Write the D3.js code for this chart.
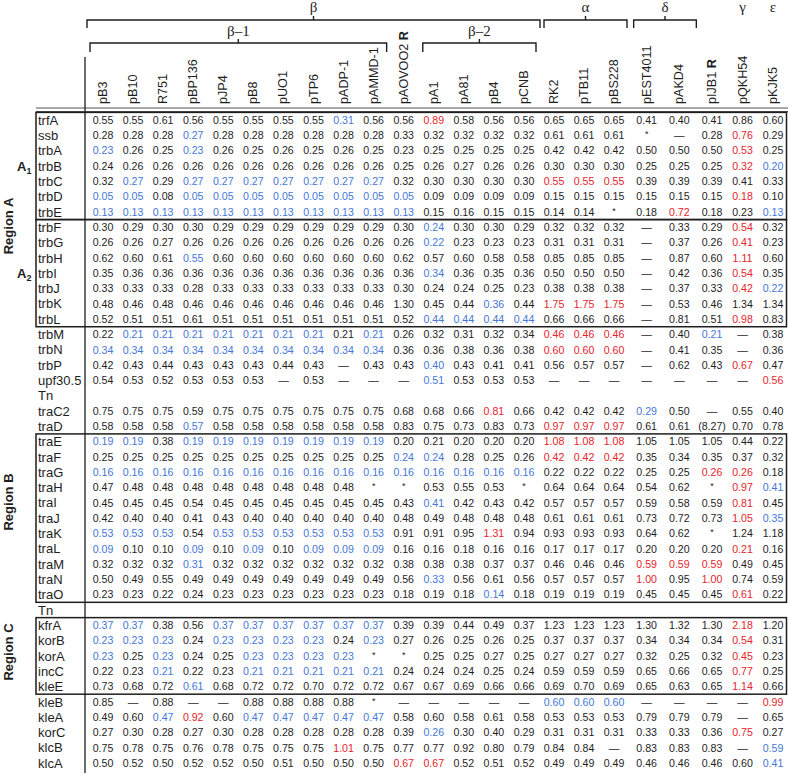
<!DOCTYPE html>
<html><head><meta charset="utf-8">
<script src="https://cdn.jsdelivr.net/npm/d3@7"></script>
<style>
html,body{margin:0;padding:0;background:#fff;}
svg{display:block;font-family:"Liberation Sans",Arial,Helvetica,sans-serif;}
</style></head>
<body><svg id="chart" width="788" height="775"></svg>
<script>
// ---- column (plasmid) labels ----
const columns = ["pB3","pB10","R751","pBP136","pJP4","pB8","pUO1","pTP6","pADP-1","pAMMD-1","pAOVOO2","pA1","pA81","pB4","pCNB","RK2","pTB11","pBS228","pEST4011","pAKD4","pIJB1","pQKH54","pKJK5"];
const rMarked = ["pAOVOO2","pIJB1"];

// ---- header groups: [label, first column, last column, level] ----
const groupsTop = [["β",0,14,0],["β–1",0,9,1],["β–2",11,14,1],["α",15,17,0],["δ",18,19,0]];
const singleGroups = [["γ",21],["ε",22]];

// ---- values; suffix b = blue (low), r = red (high) ----
const regionA1 = [
 ["trfA",["0.55","0.55","0.61","0.56","0.55","0.55","0.55","0.55","0.31b","0.56","0.56","0.89r","0.58","0.56","0.56","0.65","0.65","0.65","0.41","0.40","0.41","0.86","0.60"]],
 ["ssb",["0.28","0.28","0.28","0.27b","0.28","0.28","0.28","0.28","0.28","0.28","0.33","0.32","0.32","0.32","0.32","0.61","0.61","0.61","*","—","0.28","0.76r","0.29"]],
 ["trbA",["0.23b","0.26","0.25","0.23b","0.26","0.25","0.26","0.25","0.26","0.25","0.23","0.25","0.25","0.25","0.25","0.42","0.42","0.42","0.50","0.50","0.50","0.53r","0.25"]],
 ["trbB",["0.24","0.26","0.26","0.26","0.26","0.26","0.26","0.26","0.26","0.26","0.25","0.26","0.27","0.26","0.26","0.30","0.30","0.30","0.25","0.25","0.25","0.32r","0.20b"]],
 ["trbC",["0.32","0.27b","0.29","0.27b","0.27b","0.27b","0.27b","0.27b","0.27b","0.27b","0.32","0.30","0.30","0.30","0.30","0.55r","0.55r","0.55r","0.39","0.39","0.39","0.41","0.33"]],
 ["trbD",["0.05b","0.05b","0.08","0.05b","0.05b","0.05b","0.05b","0.05b","0.05b","0.05b","0.05b","0.09","0.09","0.09","0.09","0.15","0.15","0.15","0.15","0.15","0.15","0.18r","0.10"]],
 ["trbE",["0.13b","0.13b","0.13b","0.13b","0.13b","0.13b","0.13b","0.13b","0.13b","0.13b","0.13b","0.15","0.16","0.15","0.15","0.14","0.14","*","0.18","0.72r","0.18","0.23","0.13b"]]
];
const regionA2 = [
 ["trbF",["0.30","0.29","0.30","0.30","0.29","0.29","0.29","0.29","0.29","0.29","0.30","0.24b","0.30","0.30","0.29","0.32","0.32","0.32","—","0.33","0.29","0.54r","0.32"]],
 ["trbG",["0.26","0.26","0.27","0.26","0.26","0.26","0.26","0.26","0.26","0.26","0.26","0.22b","0.23","0.23","0.23","0.31","0.31","0.31","—","0.37","0.26","0.41r","0.23"]],
 ["trbH",["0.62","0.60","0.61","0.55b","0.60","0.60","0.60","0.60","0.60","0.60","0.62","0.57","0.60","0.58","0.58","0.85","0.85","0.85","—","0.87","0.60","1.11r","0.60"]],
 ["trbI",["0.35","0.36","0.36","0.36","0.36","0.36","0.36","0.36","0.36","0.36","0.36","0.34b","0.36","0.35","0.36","0.50","0.50","0.50","—","0.42","0.36","0.54r","0.35"]],
 ["trbJ",["0.33","0.33","0.33","0.28","0.33","0.33","0.33","0.33","0.33","0.33","0.30","0.24","0.24","0.25","0.23","0.38","0.38","0.38","—","0.37","0.33","0.42r","0.22b"]],
 ["trbK",["0.48","0.46","0.48","0.46","0.46","0.46","0.46","0.46","0.46","0.46","1.30","0.45","0.44","0.36b","0.44","1.75r","1.75r","1.75r","—","0.53","0.46","1.34","1.34"]],
 ["trbL",["0.52","0.51","0.51","0.61","0.51","0.51","0.51","0.51","0.51","0.51","0.52","0.44b","0.44b","0.44b","0.44b","0.66","0.66","0.66","—","0.81","0.51","0.98r","0.83"]]
];
const middleRows = [
 ["trbM",["0.22","0.21b","0.21b","0.21b","0.21b","0.21b","0.21b","0.21b","0.21","0.21b","0.26","0.32","0.31","0.32","0.34","0.46r","0.46r","0.46r","—","0.40","0.21b","—","0.38"]],
 ["trbN",["0.34b","0.34b","0.34b","0.34b","0.34b","0.34b","0.34b","0.34b","0.34b","0.34b","0.36","0.36","0.38","0.36","0.38","0.60r","0.60r","0.60r","—","0.41","0.35","—","0.36"]],
 ["trbP",["0.42","0.43","0.44","0.43","0.43","0.43","0.44","0.43","—","0.43","0.43","0.40b","0.43","0.41","0.41","0.56","0.57","0.57","—","0.62","0.43","0.67r","0.47"]],
 ["upf30.5",["0.54","0.53","0.52","0.53","0.53","0.53","—","0.53","—","—","—","0.51b","0.53","0.53","0.53","—","—","—","—","—","—","—","0.56r"]],
 ["Tn",[]],
 ["traC2",["0.75","0.75","0.75","0.59","0.75","0.75","0.75","0.75","0.75","0.75","0.68","0.68","0.66","0.81r","0.66","0.42","0.42","0.42","0.29b","0.50","—","0.55","0.40"]],
 ["traD",["0.58","0.58","0.58","0.57b","0.58","0.58","0.58","0.58","0.58","0.58","0.83","0.75","0.73","0.83","0.73","0.97r","0.97r","0.97r","0.61","0.61","(8.27)","0.70","0.78"]]
];
const regionB = [
 ["traE",["0.19b","0.19b","0.38","0.19b","0.19b","0.19b","0.19b","0.19b","0.19b","0.19b","0.20","0.21","0.20","0.20","0.20","1.08r","1.08r","1.08r","1.05","1.05","1.05","0.44","0.22"]],
 ["traF",["0.25","0.25","0.25","0.25","0.25","0.25","0.25","0.25","0.25","0.25","0.24b","0.24b","0.28","0.25","0.26","0.42r","0.42r","0.42r","0.35","0.34","0.35","0.37","0.32"]],
 ["traG",["0.16b","0.16b","0.16b","0.16b","0.16b","0.16b","0.16b","0.16b","0.16b","0.16b","0.16b","0.16b","0.16b","0.16b","0.16b","0.22","0.22","0.22","0.25","0.25","0.26r","0.26r","0.18"]],
 ["traH",["0.47","0.48","0.48","0.48","0.48","0.48","0.48","0.48","0.48","*","*","0.53","0.55","0.53","*","0.64","0.64","0.64","0.54","0.62","*","0.97r","0.41b"]],
 ["traI",["0.45","0.45","0.45","0.54","0.45","0.45","0.45","0.45","0.45","0.45","0.43","0.41b","0.42","0.43","0.42","0.57","0.57","0.57","0.59","0.58","0.59","0.81r","0.45"]],
 ["traJ",["0.42","0.40","0.40","0.41","0.43","0.40","0.40","0.40","0.40","0.40","0.48","0.49","0.48","0.48","0.48","0.61","0.61","0.61","0.73","0.72","0.73","1.05r","0.35b"]],
 ["traK",["0.53b","0.53b","0.53b","0.54","0.53b","0.53b","0.53b","0.53b","0.53b","0.53b","0.91","0.91","0.95","1.31r","0.94","0.93","0.93","0.93","0.64","0.62","*","1.24","1.18"]],
 ["traL",["0.09b","0.10","0.10","0.09b","0.10","0.09b","0.10","0.09b","0.09b","0.09b","0.16","0.16","0.18","0.16","0.16","0.17","0.17","0.17","0.20","0.20","0.20","0.21r","0.16"]],
 ["traM",["0.32","0.32","0.32","0.31b","0.32","0.32","0.32","0.32","0.32","0.32","0.38","0.38","0.38","0.37","0.37","0.46","0.46","0.46","0.59r","0.59r","0.59r","0.49","0.45"]],
 ["traN",["0.50","0.49","0.55","0.49","0.49","0.49","0.49","0.49","0.49","0.49","0.56","0.33b","0.56","0.61","0.56","0.57","0.57","0.57","1.00r","0.95","1.00r","0.74","0.59"]],
 ["traO",["0.23","0.23","0.22","0.24","0.23","0.23","0.23","0.23","0.23","0.23","0.18","0.19","0.18","0.14b","0.18","0.19","0.19","0.19","0.45","0.45","0.45","0.61r","0.22"]]
];
const tnRow = [["Tn",[]]];
const regionC = [
 ["kfrA",["0.37b","0.37b","0.38","0.56","0.37b","0.37b","0.37b","0.37b","0.37b","0.37b","0.39","0.39","0.44","0.49","0.37","1.23","1.23","1.23","1.30","1.32","1.30","2.18r","1.20"]],
 ["korB",["0.23b","0.23b","0.23b","0.24","0.23b","0.23b","0.23b","0.23b","0.24","0.23b","0.27","0.26","0.25","0.26","0.25","0.37","0.37","0.37","0.34","0.34","0.34","0.54r","0.31"]],
 ["korA",["0.23b","0.25","0.23b","0.24","0.25","0.23b","0.23b","0.23b","0.23b","*","*","0.25","0.25","0.27","0.25","0.27","0.27","0.27","0.32","0.25","0.32","0.45r","0.23"]],
 ["incC",["0.22","0.23","0.21b","0.22","0.23","0.21b","0.21b","0.21b","0.21b","0.21b","0.24","0.24","0.24","0.25","0.24","0.59","0.59","0.59","0.65","0.66","0.65","0.77r","0.25"]],
 ["kleE",["0.73","0.68","0.72","0.61b","0.68","0.72","0.72","0.70","0.72","0.72","0.67","0.67","0.69","0.66","0.66","0.69","0.70","0.69","0.65","0.63","0.65","1.14r","0.66"]]
];
const tailRows = [
 ["kleB",["0.85","—","0.88","—","—","0.88","0.88","0.88","0.88","*","—","—","—","—","—","0.60b","0.60b","0.60b","—","—","—","—","0.99r"]],
 ["kleA",["0.49","0.60","0.47b","0.92r","0.60","0.47b","0.47b","0.47b","0.47b","0.47b","0.58","0.60","0.58","0.61","0.58","0.53","0.53","0.53","0.79","0.79","0.79","—","0.65"]],
 ["korC",["0.27","0.30","0.28","0.27","0.30","0.28","0.28","0.28","0.28","0.28","0.39","0.26b","0.30","0.40","0.29","0.31","0.31","0.31","0.33","0.33","0.36","0.75r","0.27"]],
 ["klcB",["0.75","0.78","0.75","0.76","0.78","0.75","0.75","0.75","1.01r","0.75","0.77","0.77","0.92","0.80","0.79","0.84","0.84","—","0.83","0.83","0.83","—","0.59b"]],
 ["klcA",["0.50","0.52","0.50","0.52","0.52","0.50","0.51","0.50","0.50","0.50","0.67r","0.67r","0.52","0.51","0.52","0.49","0.49","0.49","0.46","0.46","0.46","0.60","0.41b"]]
];

// ---- drawing ----
const rows = [...regionA1, ...regionA2, ...middleRows, ...regionB, ...tnRow, ...regionC, ...tailRows];
const svg = d3.select("#chart");
const ink = "#1e1e1e", blue = "#4677d8", red = "#e5242c";

const x = d3.scaleLinear().domain([0, 14, 17, 20, 22]).range([103, 524, 614, 712, 773]);
const y = d3.scaleBand().domain(d3.range(rows.length)).range([112.4, 112.4 + rows.length * 15.31]);
const yc = i => y(i) + y.bandwidth() / 2;

const leftX = 36, rightX = 786.5, sepX = 85;

// header double line
[108, 111.6].forEach(v => svg.append("line").attr("x1", leftX).attr("x2", 788).attr("y1", v).attr("y2", v)
  .attr("stroke", "#555").attr("stroke-width", 1.1));

// vertical separator between labels and data
svg.append("line").attr("x1", sepX).attr("x2", sepX).attr("y1", 57).attr("y2", 773)
  .attr("stroke", ink).attr("stroke-width", 1.3);

// boxes
const idx = {};
let k = 0;
[["A1", regionA1], ["A2", regionA2], ["M", middleRows], ["B", regionB], ["T", tnRow], ["C", regionC], ["E", tailRows]].forEach(([n, g]) => { idx[n] = [k, k + g.length - 1]; k += g.length; });
const boxes = [idx.A1, idx.A2, idx.B, idx.C];
boxes.forEach(([a, b]) => {
  svg.append("rect").attr("x", leftX).attr("y", y(a)).attr("width", rightX - leftX)
    .attr("height", y(b) + y.bandwidth() - y(a))
    .attr("fill", "none").attr("stroke", ink).attr("stroke-width", 1.5);
});

// column headers
const hdr = svg.append("g");
columns.forEach((c, i) => {
  const t = hdr.append("text").attr("transform", `translate(${x(i) + 4},104) rotate(-90)`)
    .attr("font-size", 12.6).attr("fill", ink);
  t.append("tspan").text(c);
  if (rMarked.includes(c)) t.append("tspan").attr("font-weight", "bold").text(" R");
});

// brackets
const pad = {"β": [16, 16], "β–1": [13, 13], "β–2": [11, 12], "α": [10, 13], "δ": [13, 17]};
groupsTop.forEach(([lab, a, b, lvl]) => {
  const x1 = x(a) - pad[lab][0], x2 = x(b) + pad[lab][1];
  const yl = lvl === 0 ? 20 : 43, ye = lvl === 0 ? 28 : 52;
  const cx = (x1 + x2) / 2;
  svg.append("path").attr("d", `M${x1},${ye}V${yl}H${x2}V${ye}M${cx},${yl}V${yl - 4}`)
    .attr("fill", "none").attr("stroke", ink).attr("stroke-width", 1.4);
  svg.append("text").attr("x", cx).attr("y", lvl === 0 ? 12 : 36).attr("text-anchor", "middle")
    .attr("font-family", "'Liberation Serif','Times New Roman',serif").attr("font-size", 15).attr("fill", ink).text(lab);
});
singleGroups.forEach(([lab, i]) => {
  svg.append("text").attr("x", x(i)).attr("y", 12).attr("text-anchor", "middle")
    .attr("font-family", "'Liberation Serif','Times New Roman',serif").attr("font-size", 15).attr("fill", ink).text(lab);
});

// row labels
rows.forEach(([lab], i) => {
  svg.append("text").attr("x", 38).attr("y", yc(i)).attr("dy", "0.36em")
    .attr("font-size", 13).attr("fill", ink).text(lab);
});

// cells
rows.forEach(([lab, vals], i) => {
  vals.forEach((v, j) => {
    let col = ink, s = v;
    if (v.endsWith("b")) { col = blue; s = v.slice(0, -1); }
    else if (v.endsWith("r")) { col = red; s = v.slice(0, -1); }
    svg.append("text").attr("x", x(j)).attr("y", yc(i)).attr("text-anchor", "middle")
      .attr("font-size", s === "*" ? 9 : 10.6).attr("fill", col)
      .attr("dy", s === "*" ? "0.2em" : "0.36em").text(s);
  });
});

// region labels
const regionLab = (txt, cy) => svg.append("text").attr("transform", `translate(13,${cy}) rotate(-90)`)
  .attr("text-anchor", "middle").attr("font-weight", "bold").attr("font-size", 13).attr("fill", ink).text(txt);
regionLab("Region A", 226);
regionLab("Region B", 502);
regionLab("Region C", 652);

const subLab = (main, sub, i) => {
  const t = svg.append("text").attr("x", 17).attr("y", yc(i)).attr("dy", "0.36em")
    .attr("font-weight", "bold").attr("font-size", 13).attr("fill", ink);
  t.append("tspan").text(main);
  t.append("tspan").attr("font-size", 9).attr("dy", 3).text(sub);
};
subLab("A", "1", idx.A1[0] + 3);
subLab("A", "2", idx.A2[0] + 3);
</script></body></html>
